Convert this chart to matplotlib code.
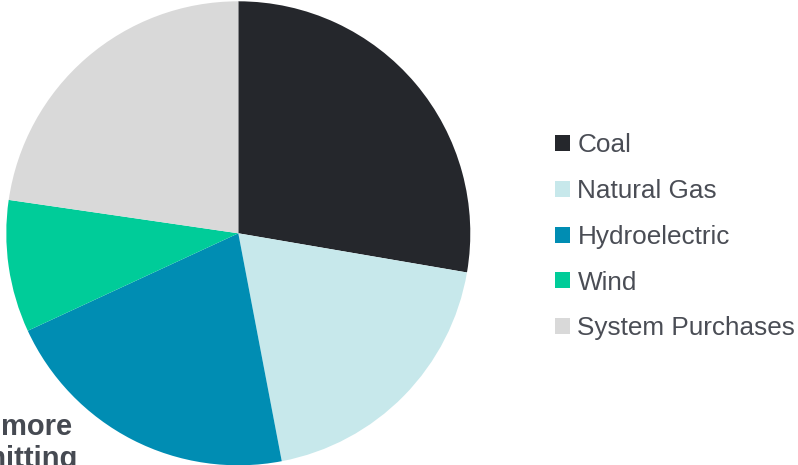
import matplotlib.pyplot as plt
from matplotlib.patches import Patch

plt.rcParams['font.family'] = ['Liberation Sans', 'DejaVu Sans']

# Generation mix, share of total (%)
sources = ["Coal", "Natural Gas", "Hydroelectric", "Wind", "System Purchases"]
shares = [27.7, 19.3, 21.1, 9.2, 22.7]
colors = ["#25272c", "#c7e8eb", "#008db3", "#00cc99", "#d9d9d9"]

W, H = 798, 465
fig = plt.figure(figsize=(W / 100, H / 100), dpi=100)

# pie centred at (238, 233) px with a 232 px radius
cx, cy, r = 238.3, 233.3, 232.0
ax = fig.add_axes([(cx - r) / W, (H - cy - r) / H, 2 * r / W, 2 * r / H])
ax.pie(shares, colors=colors, startangle=90, counterclock=False,
       radius=1.0, wedgeprops=dict(linewidth=0))
ax.set_xlim(-1, 1)
ax.set_ylim(-1, 1)
ax.set_aspect('equal')
ax.axis('off')

handles = [Patch(facecolor=c, edgecolor='none') for c in colors]
fig.legend(handles, sources, loc='upper left',
           bbox_to_anchor=(555 / W, 1 - 133.5 / H),
           frameon=False, fontsize=18.8, labelcolor='#4a4d55',
           handlelength=0.58, handleheight=0.58, handletextpad=0.28,
           labelspacing=0.83, borderaxespad=0, borderpad=0)

# caption text running off the left edge
txt = dict(fontsize=21, fontweight='bold', color='#464a52', ha='right',
           va='baseline')
fig.text(72 / W, 1 - 435 / H, "more", **txt)
fig.text(78 / W, 1 - 467 / H, "emitting", **txt)

fig.savefig("out.png", dpi=100)
